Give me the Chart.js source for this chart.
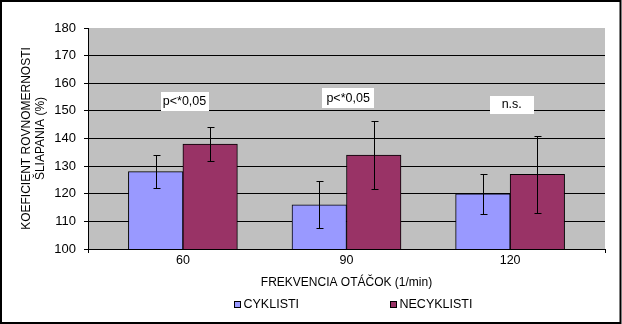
<!DOCTYPE html>
<html><head><meta charset="utf-8">
<script src="https://cdn.jsdelivr.net/npm/chart.js@4/dist/chart.umd.min.js"></script>
<style>html,body{margin:0;padding:0;background:#fff;overflow:hidden}#wrap{width:622px;height:324px}</style>
</head><body><div id="wrap"><canvas id="c" width="622" height="324"></canvas></div>
<script>
// ---- data ----
const categories = ['60', '90', '120'];
const seriesNames = ['CYKLISTI', 'NECYKLISTI'];
const cyklisti = [128, 116, 120];
const cyklistiErr = [6, 8.5, 7.3];
const necyklisti = [138, 134, 127];
const necyklistiErr = [6.3, 12.2, 13.8];
const yTickValues = [100, 110, 120, 130, 140, 150, 160, 170, 180];
const annotationTexts = ['p<*0,05', 'p<*0,05', 'n.s.'];
const xTitle = 'FREKVENCIA OTÁČOK (1/min)';
const yTitle = ['KOEFICIENT ROVNOMERNOSTI', 'ŠLIAPANIA (%)'];

const FONT = '"Liberation Sans", Arial, sans-serif';
Chart.defaults.font.family = FONT;
Chart.defaults.font.size = 12;
Chart.defaults.color = '#000';

const toPoints = vals => vals.map((v, i) => ({x: i + 1, y: v}));
const xMin = 0.42, xMax = 3.58;

const bgPlugin = {
  id: 'bg',
  beforeDraw(chart) {
    const {ctx, chartArea: a} = chart;
    ctx.save();
    ctx.fillStyle = '#fff';
    ctx.fillRect(0, 0, chart.width, chart.height);
    ctx.fillStyle = '#C0C0C0';
    ctx.fillRect(a.left, a.top, a.right - a.left, a.bottom - a.top);
    ctx.restore();
  }
};

const errPlugin = {
  id: 'errbars',
  afterDatasetsDraw(chart) {
    const {ctx} = chart;
    const ys = chart.scales.y;
    ctx.save();
    ctx.strokeStyle = '#000';
    ctx.lineWidth = 1;
    chart.data.datasets.forEach((ds, di) => {
      const meta = chart.getDatasetMeta(di);
      meta.data.forEach((el, i) => {
        const v = ds.data[i].y, e = ds.errors[i];
        const x = Math.round(el.x) + 0.5;
        const t = Math.round(ys.getPixelForValue(v + e)) + 0.5;
        const b = Math.round(ys.getPixelForValue(v - e)) + 0.5;
        ctx.beginPath();
        ctx.moveTo(x, t); ctx.lineTo(x, b);
        ctx.moveTo(x - 3, t); ctx.lineTo(x + 4, t);
        ctx.moveTo(x - 3, b); ctx.lineTo(x + 4, b);
        ctx.stroke();
      });
    });
    ctx.restore();
  }
};

const notePlugin = {
  id: 'notes',
  afterDraw(chart, args, opts) {
    const {ctx} = chart;
    const xs = chart.scales.x, ys = chart.scales.y;
    ctx.save();
    ctx.font = '12.5px ' + FONT;
    ctx.textAlign = 'center';
    ctx.textBaseline = 'middle';
    annotationTexts.forEach((txt, i) => {
      const p = opts.items[i];
      const cx = xs.getPixelForValue(p.x), cy = ys.getPixelForValue(p.y);
      ctx.fillStyle = '#fff';
      ctx.fillRect(Math.round(cx - p.w / 2), Math.round(cy - p.h / 2), p.w, p.h);
      ctx.fillStyle = '#000';
      ctx.fillText(txt, cx, cy + 0.5);
    });
    ctx.restore();
  }
};

const legendPlugin = {
  id: 'customLegend',
  afterDraw(chart, args, opts) {
    const {ctx} = chart;
    ctx.save();
    ctx.font = '12.5px ' + FONT;
    ctx.textBaseline = 'middle';
    ctx.textAlign = 'left';
    chart.data.datasets.forEach((ds, i) => {
      const x = opts.x[i], y = opts.y;
      ctx.fillStyle = ds.backgroundColor;
      ctx.fillRect(x, y - opts.box / 2, opts.box, opts.box);
      ctx.strokeStyle = '#000';
      ctx.lineWidth = 1;
      ctx.strokeRect(x + 0.5, y - opts.box / 2 + 0.5, opts.box - 1, opts.box - 1);
      ctx.fillStyle = '#000';
      ctx.fillText(ds.label, x + opts.box + 2.5, y + 0.5);
    });
    ctx.restore();
  }
};

const framePlugin = {
  id: 'frame',
  afterDraw(chart) {
    const {ctx} = chart;
    ctx.save();
    ctx.strokeStyle = '#000';
    ctx.lineWidth = 2;
    ctx.strokeRect(1, 1, chart.width - 2.5, chart.height - 2);
    ctx.restore();
  }
};

new Chart(document.getElementById('c'), {
  type: 'bar',
  data: {
    datasets: [
      {label: seriesNames[0], data: toPoints(cyklisti), errors: cyklistiErr,
       backgroundColor: '#9999FF', borderColor: '#000', borderWidth: 1, borderSkipped: false},
      {label: seriesNames[1], data: toPoints(necyklisti), errors: necyklistiErr,
       backgroundColor: '#993366', borderColor: '#000', borderWidth: 1, borderSkipped: false}
    ]
  },
  options: {
    responsive: false,
    animation: false,
    layout: {padding: {left: 0, right: 17, top: 28, bottom: 0}},
    barThickness: 54.5,
    plugins: {
      legend: {display: false},
      tooltip: {enabled: false},
      notes: {items: [
        {x: 1.01, y: 153.5, w: 48, h: 19},
        {x: 2.01, y: 154.5, w: 52, h: 20},
        {x: 3.01, y: 152.3, w: 44, h: 18}
      ]},
      customLegend: {x: [234, 390], y: 304.5, box: 7}
    },
    scales: {
      x: {
        type: 'linear', min: xMin, max: xMax, offset: false,
        afterBuildTicks: s => {
          s.ticks = [{value: xMin}].concat(categories.map((c, i) => ({value: i + 1}))).concat([{value: xMax}]);
        },
        afterFit: s => { s.height = 75; },
        ticks: {autoSkip: false, maxRotation: 0, minRotation: 0, padding: 0,
                font: {size: 12.5},
                callback: v => categories[v - 1] ?? ''},
        grid: {offset: false, drawOnChartArea: false, drawTicks: true, tickLength: 4,
               color: c => (c.tick && Number.isInteger(c.tick.value)) ? 'rgba(0,0,0,0)' : '#000'},
        border: {display: true, color: '#000', width: 1},
        title: {display: true, text: xTitle, padding: {top: 4, bottom: 34}}
      },
      y: {
        min: yTickValues[0], max: yTickValues[yTickValues.length - 1],
        afterBuildTicks: s => { s.ticks = yTickValues.map(v => ({value: v})); },
        afterFit: s => { s.width = 88; },
        ticks: {padding: 8, font: {size: 13}},
        grid: {color: c => (c.tick && c.tick.value === 180) ? 'rgba(0,0,0,0)' : '#000',
               tickColor: '#000', tickLength: 4, lineWidth: 1},
        border: {display: true, color: '#000', width: 1},
        title: {display: true, text: yTitle, padding: {top: 19, bottom: 0}}
      }
    }
  },
  plugins: [bgPlugin, errPlugin, notePlugin, legendPlugin, framePlugin]
});
</script>
</body></html>
